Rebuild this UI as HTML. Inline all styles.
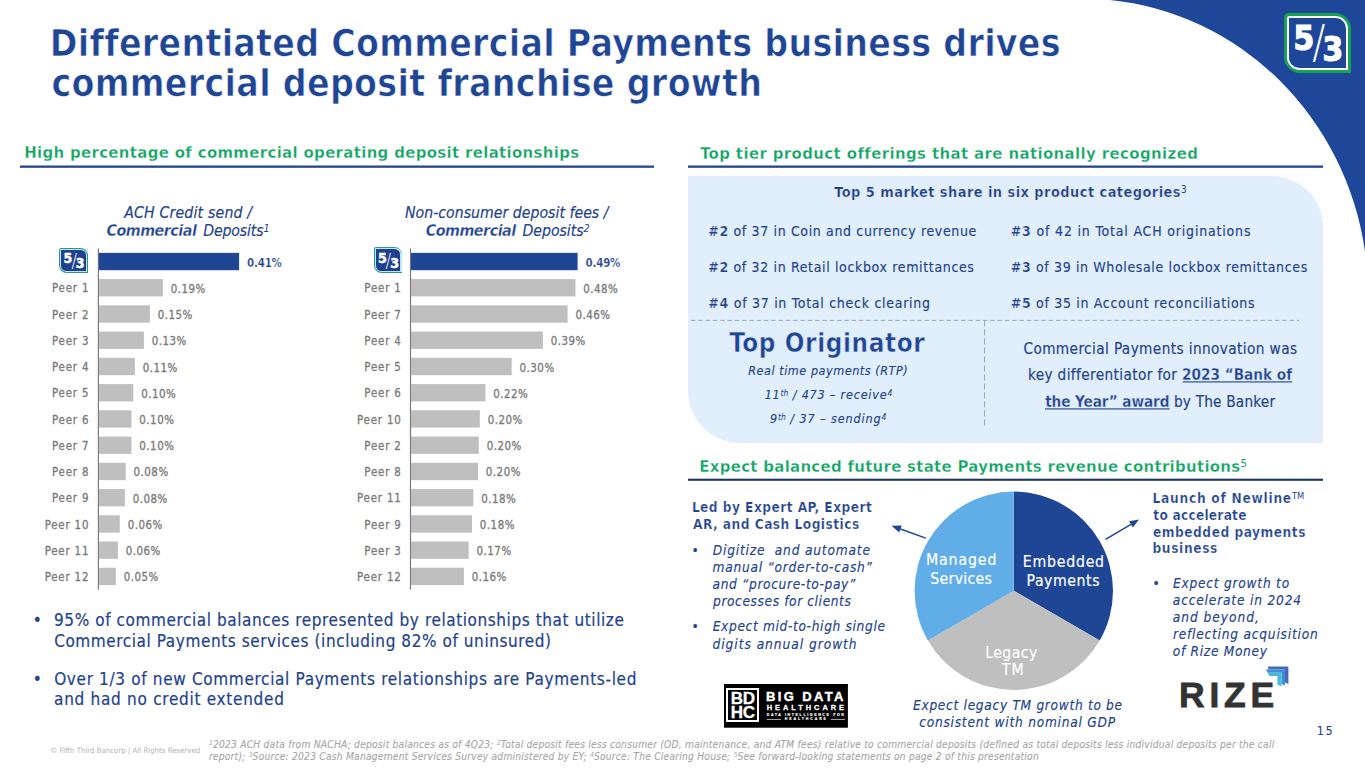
<!DOCTYPE html>
<html lang="en"><head><meta charset="utf-8"><title>Differentiated Commercial Payments business drives commercial deposit franchise growth</title>
<style>
html,body{margin:0;padding:0;background:#fff;}
body{width:1365px;height:768px;overflow:hidden;position:relative;font-family:"DejaVu Sans Condensed","Liberation Sans",sans-serif;font-stretch:condensed;font-variant-ligatures:none;font-kerning:normal;}
.t{position:absolute;white-space:pre;margin:0;}
.r{position:absolute;}
svg{position:absolute;overflow:visible;}
sup{font-size:68%;line-height:0;vertical-align:baseline;position:relative;top:-0.41em;letter-spacing:0;font-weight:normal;-webkit-text-stroke:0;}
.lg{color:#fff;font-weight:bold;-webkit-text-stroke:0.035em #fff;font-family:"DejaVu Sans Condensed","Liberation Sans",sans-serif;}
.lgs{color:#fff;font-weight:200;font-stretch:normal;font-family:"DejaVu Sans","Liberation Sans",sans-serif;}
.bd{color:#fff;font-weight:bold;font-stretch:normal;font-family:"Liberation Sans","DejaVu Sans",sans-serif;text-align:center;}
.rz{color:#333;font-weight:bold;font-stretch:normal;font-family:"Liberation Sans","DejaVu Sans",sans-serif;}
</style></head><body>
<svg width="1365" height="768" style="left:0;top:0" viewBox="0 0 1365 768"><path d="M1109.9,0 A285.1,296.57 0 0 1 1365,251.5 L1365,0 Z" fill="#1f4799"/></svg>
<div class="r" style="left:1284px;top:13px;width:67px;height:60px;background:#16a154;border-radius:4.8px 16px 0 16px;"></div>
<div class="r" style="left:1287.2px;top:16.2px;width:60.6px;height:53.6px;background:#ffffff;border-radius:2.4px 12.8px 0 12.8px;"></div>
<div class="r" style="left:1289.4px;top:18.4px;width:56.2px;height:49.2px;background:#1f4799;border-radius:0 10.6px 0 10.6px;"></div>
<div class="t lg" style="left:1293.60px;top:18.68px;font-size:33.00px;line-height:39.60px;">5</div>
<div class="t lgs" style="left:1310.60px;top:16.06px;font-size:45.60px;line-height:54.72px;transform:scaleX(0.85);">/</div>
<div class="t lg" style="left:1322.60px;top:29.88px;font-size:33.00px;line-height:39.60px;">3</div>
<div class="t" style="left:49.74px;top:21.0px;font-size:37.1px;line-height:45px;color:#1f4595;font-weight:bold;-webkit-text-stroke:0.63px #fff;letter-spacing:0.262px;">Differentiated Commercial Payments business drives</div>
<div class="t" style="left:51.41px;top:61.0px;font-size:37.1px;line-height:45px;color:#1f4595;font-weight:bold;-webkit-text-stroke:0.63px #fff;letter-spacing:0.305px;">commercial deposit franchise growth</div>
<div class="t" style="left:24.13px;top:142.0px;font-size:16.6px;line-height:21px;color:#10a464;font-weight:bold;-webkit-text-stroke:0.28px #fff;letter-spacing:0.342px;">High percentage of commercial operating deposit relationships</div>
<svg style="left:19px;top:164px" width="636" height="5"><rect x="1.00" y="1.50" width="634.00" height="2.30" fill="#254592" /></svg>
<div class="t" style="left:700.16px;top:143.0px;font-size:16.6px;line-height:21px;color:#10a464;font-weight:bold;-webkit-text-stroke:0.28px #fff;letter-spacing:0.395px;">Top tier product offerings that are nationally recognized</div>
<svg style="left:687px;top:164px" width="637" height="5"><rect x="1.00" y="1.50" width="635.00" height="2.30" fill="#254592" /></svg>
<div class="t" style="left:699.33px;top:456.0px;font-size:16.6px;line-height:21px;color:#10a464;font-weight:bold;-webkit-text-stroke:0.28px #fff;letter-spacing:0.302px;">Expect balanced future state Payments revenue contributions<sup>5</sup></div>
<svg style="left:687px;top:477px" width="637" height="5"><rect x="1.00" y="1.70" width="635.00" height="2.10" fill="#1d3568" /></svg>
<svg style="left:96px;top:247px" width="5" height="344"><rect x="1.80" y="1.50" width="1.20" height="341.20" fill="#7a7a7a" /></svg>
<svg style="left:97px;top:251px" width="144" height="21"><rect x="1.90" y="1.85" width="140.20" height="17.35" fill="#1f4595" /></svg>
<div class="t" style="left:247.12px;top:255.0px;font-size:11.4px;line-height:16px;color:#23438c;font-weight:bold;-webkit-text-stroke:0.19px #fff;letter-spacing:-0.194px;">0.41%</div>
<svg style="left:97px;top:278px" width="67" height="20"><rect x="1.90" y="1.09" width="64.00" height="17.35" fill="#bfbfbf" /></svg>
<div class="t" style="left:51.99px;top:280.0px;font-size:11.4px;line-height:16px;color:#7a7a7a;letter-spacing:0.822px;-webkit-text-stroke:0.3px #7a7a7a;">Peer 1</div>
<div class="t" style="left:170.74px;top:281.0px;font-size:11.4px;line-height:16px;color:#7a7a7a;letter-spacing:0.510px;-webkit-text-stroke:0.3px #7a7a7a;">0.19%</div>
<svg style="left:97px;top:304px" width="54" height="20"><rect x="1.90" y="1.33" width="51.00" height="17.35" fill="#bfbfbf" /></svg>
<div class="t" style="left:51.99px;top:307.0px;font-size:11.4px;line-height:16px;color:#7a7a7a;letter-spacing:0.822px;-webkit-text-stroke:0.3px #7a7a7a;">Peer 2</div>
<div class="t" style="left:157.74px;top:307.0px;font-size:11.4px;line-height:16px;color:#7a7a7a;letter-spacing:0.510px;-webkit-text-stroke:0.3px #7a7a7a;">0.15%</div>
<svg style="left:97px;top:330px" width="48" height="20"><rect x="1.90" y="1.57" width="45.00" height="17.35" fill="#bfbfbf" /></svg>
<div class="t" style="left:51.99px;top:333.0px;font-size:11.4px;line-height:16px;color:#7a7a7a;letter-spacing:0.822px;-webkit-text-stroke:0.3px #7a7a7a;">Peer 3</div>
<div class="t" style="left:151.74px;top:333.0px;font-size:11.4px;line-height:16px;color:#7a7a7a;letter-spacing:0.510px;-webkit-text-stroke:0.3px #7a7a7a;">0.13%</div>
<svg style="left:97px;top:356px" width="39" height="21"><rect x="1.90" y="1.81" width="36.00" height="17.35" fill="#bfbfbf" /></svg>
<div class="t" style="left:51.99px;top:359.0px;font-size:11.4px;line-height:16px;color:#7a7a7a;letter-spacing:0.822px;-webkit-text-stroke:0.3px #7a7a7a;">Peer 4</div>
<div class="t" style="left:142.74px;top:360.0px;font-size:11.4px;line-height:16px;color:#7a7a7a;letter-spacing:0.510px;-webkit-text-stroke:0.3px #7a7a7a;">0.11%</div>
<svg style="left:97px;top:383px" width="38" height="20"><rect x="1.90" y="1.05" width="34.40" height="17.35" fill="#bfbfbf" /></svg>
<div class="t" style="left:51.99px;top:385.0px;font-size:11.4px;line-height:16px;color:#7a7a7a;letter-spacing:0.822px;-webkit-text-stroke:0.3px #7a7a7a;">Peer 5</div>
<div class="t" style="left:141.14px;top:386.0px;font-size:11.4px;line-height:16px;color:#7a7a7a;letter-spacing:0.510px;-webkit-text-stroke:0.3px #7a7a7a;">0.10%</div>
<svg style="left:97px;top:409px" width="36" height="20"><rect x="1.90" y="1.29" width="32.60" height="17.35" fill="#bfbfbf" /></svg>
<div class="t" style="left:51.99px;top:412.0px;font-size:11.4px;line-height:16px;color:#7a7a7a;letter-spacing:0.822px;-webkit-text-stroke:0.3px #7a7a7a;">Peer 6</div>
<div class="t" style="left:139.34px;top:412.0px;font-size:11.4px;line-height:16px;color:#7a7a7a;letter-spacing:0.510px;-webkit-text-stroke:0.3px #7a7a7a;">0.10%</div>
<svg style="left:97px;top:435px" width="36" height="20"><rect x="1.90" y="1.53" width="32.60" height="17.35" fill="#bfbfbf" /></svg>
<div class="t" style="left:51.99px;top:438.0px;font-size:11.4px;line-height:16px;color:#7a7a7a;letter-spacing:0.822px;-webkit-text-stroke:0.3px #7a7a7a;">Peer 7</div>
<div class="t" style="left:139.34px;top:438.0px;font-size:11.4px;line-height:16px;color:#7a7a7a;letter-spacing:0.510px;-webkit-text-stroke:0.3px #7a7a7a;">0.10%</div>
<svg style="left:97px;top:461px" width="30" height="21"><rect x="1.90" y="1.77" width="26.80" height="17.35" fill="#bfbfbf" /></svg>
<div class="t" style="left:51.99px;top:464.0px;font-size:11.4px;line-height:16px;color:#7a7a7a;letter-spacing:0.822px;-webkit-text-stroke:0.3px #7a7a7a;">Peer 8</div>
<div class="t" style="left:133.54px;top:464.0px;font-size:11.4px;line-height:16px;color:#7a7a7a;letter-spacing:0.510px;-webkit-text-stroke:0.3px #7a7a7a;">0.08%</div>
<svg style="left:97px;top:488px" width="29" height="20"><rect x="1.90" y="1.01" width="26.00" height="17.35" fill="#bfbfbf" /></svg>
<div class="t" style="left:51.99px;top:490.0px;font-size:11.4px;line-height:16px;color:#7a7a7a;letter-spacing:0.822px;-webkit-text-stroke:0.3px #7a7a7a;">Peer 9</div>
<div class="t" style="left:132.74px;top:491.0px;font-size:11.4px;line-height:16px;color:#7a7a7a;letter-spacing:0.510px;-webkit-text-stroke:0.3px #7a7a7a;">0.08%</div>
<svg style="left:97px;top:514px" width="24" height="20"><rect x="1.90" y="1.25" width="20.90" height="17.35" fill="#bfbfbf" /></svg>
<div class="t" style="left:44.63px;top:517.0px;font-size:11.4px;line-height:16px;color:#7a7a7a;letter-spacing:0.824px;-webkit-text-stroke:0.3px #7a7a7a;">Peer 10</div>
<div class="t" style="left:127.64px;top:517.0px;font-size:11.4px;line-height:16px;color:#7a7a7a;letter-spacing:0.510px;-webkit-text-stroke:0.3px #7a7a7a;">0.06%</div>
<svg style="left:97px;top:540px" width="22" height="20"><rect x="1.90" y="1.49" width="19.00" height="17.35" fill="#bfbfbf" /></svg>
<div class="t" style="left:44.63px;top:543.0px;font-size:11.4px;line-height:16px;color:#7a7a7a;letter-spacing:0.824px;-webkit-text-stroke:0.3px #7a7a7a;">Peer 11</div>
<div class="t" style="left:125.74px;top:543.0px;font-size:11.4px;line-height:16px;color:#7a7a7a;letter-spacing:0.510px;-webkit-text-stroke:0.3px #7a7a7a;">0.06%</div>
<svg style="left:97px;top:566px" width="20" height="21"><rect x="1.90" y="1.73" width="17.00" height="17.35" fill="#bfbfbf" /></svg>
<div class="t" style="left:44.63px;top:569.0px;font-size:11.4px;line-height:16px;color:#7a7a7a;letter-spacing:0.824px;-webkit-text-stroke:0.3px #7a7a7a;">Peer 12</div>
<div class="t" style="left:123.74px;top:569.0px;font-size:11.4px;line-height:16px;color:#7a7a7a;letter-spacing:0.510px;-webkit-text-stroke:0.3px #7a7a7a;">0.05%</div>
<svg style="left:408px;top:247px" width="5" height="344"><rect x="1.90" y="1.50" width="1.20" height="341.20" fill="#7a7a7a" /></svg>
<svg style="left:410px;top:251px" width="169" height="21"><rect x="1.00" y="1.85" width="166.60" height="17.35" fill="#1f4595" /></svg>
<div class="t" style="left:585.62px;top:255.0px;font-size:11.4px;line-height:16px;color:#23438c;font-weight:bold;-webkit-text-stroke:0.19px #fff;letter-spacing:-0.194px;">0.49%</div>
<svg style="left:410px;top:278px" width="167" height="20"><rect x="1.00" y="1.09" width="164.40" height="17.35" fill="#bfbfbf" /></svg>
<div class="t" style="left:364.29px;top:280.0px;font-size:11.4px;line-height:16px;color:#7a7a7a;letter-spacing:0.822px;-webkit-text-stroke:0.3px #7a7a7a;">Peer 1</div>
<div class="t" style="left:583.24px;top:281.0px;font-size:11.4px;line-height:16px;color:#7a7a7a;letter-spacing:0.510px;-webkit-text-stroke:0.3px #7a7a7a;">0.48%</div>
<svg style="left:410px;top:304px" width="159" height="20"><rect x="1.00" y="1.33" width="156.60" height="17.35" fill="#bfbfbf" /></svg>
<div class="t" style="left:364.29px;top:307.0px;font-size:11.4px;line-height:16px;color:#7a7a7a;letter-spacing:0.822px;-webkit-text-stroke:0.3px #7a7a7a;">Peer 7</div>
<div class="t" style="left:575.44px;top:307.0px;font-size:11.4px;line-height:16px;color:#7a7a7a;letter-spacing:0.510px;-webkit-text-stroke:0.3px #7a7a7a;">0.46%</div>
<svg style="left:410px;top:330px" width="134" height="20"><rect x="1.00" y="1.57" width="131.90" height="17.35" fill="#bfbfbf" /></svg>
<div class="t" style="left:364.29px;top:333.0px;font-size:11.4px;line-height:16px;color:#7a7a7a;letter-spacing:0.822px;-webkit-text-stroke:0.3px #7a7a7a;">Peer 4</div>
<div class="t" style="left:550.74px;top:333.0px;font-size:11.4px;line-height:16px;color:#7a7a7a;letter-spacing:0.510px;-webkit-text-stroke:0.3px #7a7a7a;">0.39%</div>
<svg style="left:410px;top:356px" width="103" height="21"><rect x="1.00" y="1.81" width="100.70" height="17.35" fill="#bfbfbf" /></svg>
<div class="t" style="left:364.29px;top:359.0px;font-size:11.4px;line-height:16px;color:#7a7a7a;letter-spacing:0.822px;-webkit-text-stroke:0.3px #7a7a7a;">Peer 5</div>
<div class="t" style="left:519.54px;top:360.0px;font-size:11.4px;line-height:16px;color:#7a7a7a;letter-spacing:0.510px;-webkit-text-stroke:0.3px #7a7a7a;">0.30%</div>
<svg style="left:410px;top:383px" width="77" height="20"><rect x="1.00" y="1.05" width="74.40" height="17.35" fill="#bfbfbf" /></svg>
<div class="t" style="left:364.29px;top:385.0px;font-size:11.4px;line-height:16px;color:#7a7a7a;letter-spacing:0.822px;-webkit-text-stroke:0.3px #7a7a7a;">Peer 6</div>
<div class="t" style="left:493.24px;top:386.0px;font-size:11.4px;line-height:16px;color:#7a7a7a;letter-spacing:0.510px;-webkit-text-stroke:0.3px #7a7a7a;">0.22%</div>
<svg style="left:410px;top:409px" width="71" height="20"><rect x="1.00" y="1.29" width="68.80" height="17.35" fill="#bfbfbf" /></svg>
<div class="t" style="left:356.93px;top:412.0px;font-size:11.4px;line-height:16px;color:#7a7a7a;letter-spacing:0.824px;-webkit-text-stroke:0.3px #7a7a7a;">Peer 10</div>
<div class="t" style="left:487.64px;top:412.0px;font-size:11.4px;line-height:16px;color:#7a7a7a;letter-spacing:0.510px;-webkit-text-stroke:0.3px #7a7a7a;">0.20%</div>
<svg style="left:410px;top:435px" width="70" height="20"><rect x="1.00" y="1.53" width="67.80" height="17.35" fill="#bfbfbf" /></svg>
<div class="t" style="left:364.29px;top:438.0px;font-size:11.4px;line-height:16px;color:#7a7a7a;letter-spacing:0.822px;-webkit-text-stroke:0.3px #7a7a7a;">Peer 2</div>
<div class="t" style="left:486.64px;top:438.0px;font-size:11.4px;line-height:16px;color:#7a7a7a;letter-spacing:0.510px;-webkit-text-stroke:0.3px #7a7a7a;">0.20%</div>
<svg style="left:410px;top:461px" width="69" height="21"><rect x="1.00" y="1.77" width="67.00" height="17.35" fill="#bfbfbf" /></svg>
<div class="t" style="left:364.29px;top:464.0px;font-size:11.4px;line-height:16px;color:#7a7a7a;letter-spacing:0.822px;-webkit-text-stroke:0.3px #7a7a7a;">Peer 8</div>
<div class="t" style="left:485.84px;top:464.0px;font-size:11.4px;line-height:16px;color:#7a7a7a;letter-spacing:0.510px;-webkit-text-stroke:0.3px #7a7a7a;">0.20%</div>
<svg style="left:410px;top:488px" width="65" height="20"><rect x="1.00" y="1.01" width="62.30" height="17.35" fill="#bfbfbf" /></svg>
<div class="t" style="left:356.93px;top:490.0px;font-size:11.4px;line-height:16px;color:#7a7a7a;letter-spacing:0.824px;-webkit-text-stroke:0.3px #7a7a7a;">Peer 11</div>
<div class="t" style="left:481.14px;top:491.0px;font-size:11.4px;line-height:16px;color:#7a7a7a;letter-spacing:0.510px;-webkit-text-stroke:0.3px #7a7a7a;">0.18%</div>
<svg style="left:410px;top:514px" width="63" height="20"><rect x="1.00" y="1.25" width="61.00" height="17.35" fill="#bfbfbf" /></svg>
<div class="t" style="left:364.29px;top:517.0px;font-size:11.4px;line-height:16px;color:#7a7a7a;letter-spacing:0.822px;-webkit-text-stroke:0.3px #7a7a7a;">Peer 9</div>
<div class="t" style="left:479.84px;top:517.0px;font-size:11.4px;line-height:16px;color:#7a7a7a;letter-spacing:0.510px;-webkit-text-stroke:0.3px #7a7a7a;">0.18%</div>
<svg style="left:410px;top:540px" width="60" height="20"><rect x="1.00" y="1.49" width="57.70" height="17.35" fill="#bfbfbf" /></svg>
<div class="t" style="left:364.29px;top:543.0px;font-size:11.4px;line-height:16px;color:#7a7a7a;letter-spacing:0.822px;-webkit-text-stroke:0.3px #7a7a7a;">Peer 3</div>
<div class="t" style="left:476.54px;top:543.0px;font-size:11.4px;line-height:16px;color:#7a7a7a;letter-spacing:0.510px;-webkit-text-stroke:0.3px #7a7a7a;">0.17%</div>
<svg style="left:410px;top:566px" width="55" height="21"><rect x="1.00" y="1.73" width="52.90" height="17.35" fill="#bfbfbf" /></svg>
<div class="t" style="left:356.93px;top:569.0px;font-size:11.4px;line-height:16px;color:#7a7a7a;letter-spacing:0.824px;-webkit-text-stroke:0.3px #7a7a7a;">Peer 12</div>
<div class="t" style="left:471.74px;top:569.0px;font-size:11.4px;line-height:16px;color:#7a7a7a;letter-spacing:0.510px;-webkit-text-stroke:0.3px #7a7a7a;">0.16%</div>
<div class="r" style="left:59.3px;top:247.6px;width:28.5px;height:25.2px;background:#2f978a;border-radius:2.2px 7.5px 0 7.5px;"></div>
<div class="r" style="left:60.199999999999996px;top:248.5px;width:26.7px;height:23.4px;background:#b5ecea;border-radius:1.1px 6.6px 0 6.6px;"></div>
<div class="r" style="left:61.3px;top:249.6px;width:24.5px;height:21.2px;background:#1f3f8f;border-radius:0 5.5px 0 5.5px;"></div>
<div class="t lg" style="left:63.38px;top:250.02px;font-size:14.04px;line-height:16.84px;">5</div>
<div class="t lgs" style="left:70.61px;top:248.90px;font-size:19.40px;line-height:23.28px;transform:scaleX(0.85);">/</div>
<div class="t lg" style="left:75.72px;top:254.78px;font-size:14.04px;line-height:16.84px;">3</div>
<div class="r" style="left:373.8px;top:247.3px;width:28.7px;height:25.5px;background:#2f978a;border-radius:2.2px 7.5px 0 7.5px;"></div>
<div class="r" style="left:374.7px;top:248.20000000000002px;width:26.9px;height:23.7px;background:#b5ecea;border-radius:1.1px 6.6px 0 6.6px;"></div>
<div class="r" style="left:375.8px;top:249.3px;width:24.7px;height:21.5px;background:#1f3f8f;border-radius:0 5.5px 0 5.5px;"></div>
<div class="t lg" style="left:377.91px;top:249.73px;font-size:14.14px;line-height:16.96px;">5</div>
<div class="t lgs" style="left:385.19px;top:248.61px;font-size:19.53px;line-height:23.44px;transform:scaleX(0.85);">/</div>
<div class="t lg" style="left:390.33px;top:254.53px;font-size:14.14px;line-height:16.96px;">3</div>
<div class="t" style="left:124.15px;top:202.0px;font-size:15.7px;line-height:21px;color:#23438c;font-style:italic;-webkit-text-stroke:0.17px #23438c;letter-spacing:0.183px;">ACH Credit send /</div>
<div class="t" style="left:106.38px;top:220.0px;font-size:15.9px;line-height:21px;color:#23438c;font-weight:bold;-webkit-text-stroke:0.27px #fff;font-style:italic;letter-spacing:-0.482px;">Commercial</div>
<div class="t" style="left:203.25px;top:220.0px;font-size:15.7px;line-height:21px;color:#23438c;font-style:italic;-webkit-text-stroke:0.17px #23438c;letter-spacing:-0.149px;">Deposits<sup>1</sup></div>
<div class="t" style="left:404.95px;top:202.0px;font-size:15.7px;line-height:21px;color:#23438c;font-style:italic;-webkit-text-stroke:0.17px #23438c;letter-spacing:0.020px;">Non-consumer deposit fees /</div>
<div class="t" style="left:425.68px;top:220.0px;font-size:15.9px;line-height:21px;color:#23438c;font-weight:bold;-webkit-text-stroke:0.27px #fff;font-style:italic;letter-spacing:-0.482px;">Commercial</div>
<div class="t" style="left:522.55px;top:220.0px;font-size:15.7px;line-height:21px;color:#23438c;font-style:italic;-webkit-text-stroke:0.17px #23438c;letter-spacing:-0.043px;">Deposits<sup>2</sup></div>
<div class="t" style="left:32.65px;top:609.0px;font-size:17px;line-height:22px;color:#23438c;-webkit-text-stroke:0.19px #23438c;letter-spacing:-0.008px;">•</div>
<div class="t" style="left:54.06px;top:609.0px;font-size:17px;line-height:22px;color:#23438c;-webkit-text-stroke:0.19px #23438c;letter-spacing:0.579px;">95% of commercial balances represented by relationships that utilize</div>
<div class="t" style="left:54.15px;top:630.0px;font-size:17px;line-height:22px;color:#23438c;-webkit-text-stroke:0.19px #23438c;letter-spacing:0.578px;">Commercial Payments services (including 82% of uninsured)</div>
<div class="t" style="left:32.65px;top:668.0px;font-size:17px;line-height:22px;color:#23438c;-webkit-text-stroke:0.19px #23438c;letter-spacing:-0.008px;">•</div>
<div class="t" style="left:54.15px;top:668.0px;font-size:17px;line-height:22px;color:#23438c;-webkit-text-stroke:0.19px #23438c;letter-spacing:0.663px;">Over 1/3 of new Commercial Payments relationships are Payments-led</div>
<div class="t" style="left:54.11px;top:688.0px;font-size:17px;line-height:22px;color:#23438c;-webkit-text-stroke:0.19px #23438c;letter-spacing:0.717px;">and had no credit extended</div>
<div class="r" style="left:688px;top:176px;width:635px;height:267.3px;background:#e1eefb;border-radius:0 51px 0 52px;"></div>
<div class="t" style="left:834.36px;top:183.0px;font-size:14.4px;line-height:18px;color:#1f3f85;font-weight:bold;-webkit-text-stroke:0.24px #e1eefb;letter-spacing:0.466px;">Top 5 market share in six product categories<sup>3</sup></div>
<div class="t" style="left:708.26px;top:222.0px;font-size:14px;line-height:18px;color:#23438c;-webkit-text-stroke:0.15px #23438c;letter-spacing:0.640px;"><span style="font-weight:bold;-webkit-text-stroke:0.24px #e1eefb;">#2</span> of 37 in Coin and currency revenue</div>
<div class="t" style="left:708.26px;top:258.0px;font-size:14px;line-height:18px;color:#23438c;-webkit-text-stroke:0.15px #23438c;letter-spacing:0.644px;"><span style="font-weight:bold;-webkit-text-stroke:0.24px #e1eefb;">#2</span> of 32 in Retail lockbox remittances</div>
<div class="t" style="left:708.26px;top:294.0px;font-size:14px;line-height:18px;color:#23438c;-webkit-text-stroke:0.15px #23438c;letter-spacing:0.714px;"><span style="font-weight:bold;-webkit-text-stroke:0.24px #e1eefb;">#4</span> of 37 in Total check clearing</div>
<div class="t" style="left:1010.76px;top:222.0px;font-size:14px;line-height:18px;color:#23438c;-webkit-text-stroke:0.15px #23438c;letter-spacing:0.809px;"><span style="font-weight:bold;-webkit-text-stroke:0.24px #e1eefb;">#3</span> of 42 in Total ACH originations</div>
<div class="t" style="left:1010.76px;top:258.0px;font-size:14px;line-height:18px;color:#23438c;-webkit-text-stroke:0.15px #23438c;letter-spacing:0.630px;"><span style="font-weight:bold;-webkit-text-stroke:0.24px #e1eefb;">#3</span> of 39 in Wholesale lockbox remittances</div>
<div class="t" style="left:1010.76px;top:294.0px;font-size:14px;line-height:18px;color:#23438c;-webkit-text-stroke:0.15px #23438c;letter-spacing:0.675px;"><span style="font-weight:bold;-webkit-text-stroke:0.24px #e1eefb;">#5</span> of 35 in Account reconciliations</div>
<svg width="1365" height="768" style="left:0;top:0" viewBox="0 0 1365 768"><path d="M691,320.4 H1299" stroke="#959aa2" stroke-width="0.85" stroke-dasharray="4.4 2.9" fill="none"/><path d="M984.5,320.4 V427" stroke="#959aa2" stroke-width="0.85" stroke-dasharray="6 3" fill="none"/></svg>
<div class="t" style="left:729.24px;top:327.0px;font-size:25.8px;line-height:32px;color:#1f4595;font-weight:bold;-webkit-text-stroke:0.44px #e1eefb;letter-spacing:0.617px;">Top Originator</div>
<div class="t" style="left:748.22px;top:362.0px;font-size:12.5px;line-height:17px;color:#23438c;font-style:italic;-webkit-text-stroke:0.14px #23438c;letter-spacing:0.541px;">Real time payments (RTP)</div>
<div class="t" style="left:764.67px;top:386.0px;font-size:12.5px;line-height:17px;color:#23438c;font-style:italic;-webkit-text-stroke:0.14px #23438c;letter-spacing:0.783px;">11<sup>th</sup> / 473 – receive<sup>4</sup></div>
<div class="t" style="left:769.93px;top:410.0px;font-size:12.5px;line-height:17px;color:#23438c;font-style:italic;-webkit-text-stroke:0.14px #23438c;letter-spacing:0.883px;">9<sup>th</sup> / 37 – sending<sup>4</sup></div>
<div class="t" style="left:1023.44px;top:339.0px;font-size:15.2px;line-height:20px;color:#23438c;-webkit-text-stroke:0.17px #23438c;letter-spacing:0.403px;">Commercial Payments innovation was</div>
<svg style="left:1181px;top:380px" width="113" height="4"><rect x="1.74" y="1.20" width="109.42" height="1.40" fill="#23438c" opacity="0.8"/></svg>
<div class="t" style="left:1027.88px;top:365.0px;font-size:15.2px;line-height:20px;color:#23438c;-webkit-text-stroke:0.17px #23438c;letter-spacing:0.384px;">key differentiator for <span style="letter-spacing:-0.016px;font-weight:bold;-webkit-text-stroke:0.26px #e1eefb;">2023 “Bank of</span></div>
<svg style="left:1044px;top:407px" width="127" height="4"><rect x="1.00" y="1.20" width="124.60" height="1.40" fill="#23438c" opacity="0.8"/></svg>
<div class="t" style="left:1045.15px;top:392.0px;font-size:15.2px;line-height:20px;color:#23438c;-webkit-text-stroke:0.17px #23438c;letter-spacing:0.209px;"><span style="letter-spacing:-0.091px;font-weight:bold;-webkit-text-stroke:0.26px #e1eefb;">the Year” award</span> by The Banker</div>
<div class="t" style="left:691.88px;top:498.0px;font-size:13.6px;line-height:18px;color:#23438c;font-weight:bold;-webkit-text-stroke:0.23px #fff;letter-spacing:0.451px;">Led by Expert AP, Expert</div>
<div class="t" style="left:692.97px;top:515.0px;font-size:13.6px;line-height:18px;color:#23438c;font-weight:bold;-webkit-text-stroke:0.23px #fff;letter-spacing:0.466px;">AR, and Cash Logistics</div>
<div class="t" style="left:691.60px;top:541.0px;font-size:13.6px;line-height:18px;color:#23438c;-webkit-text-stroke:0.15px #23438c;">•</div>
<div class="t" style="left:712.69px;top:541.0px;font-size:13.6px;line-height:18px;color:#23438c;font-style:italic;-webkit-text-stroke:0.15px #23438c;letter-spacing:0.819px;">Digitize  and automate</div>
<div class="t" style="left:712.59px;top:558.0px;font-size:13.6px;line-height:18px;color:#23438c;font-style:italic;-webkit-text-stroke:0.15px #23438c;letter-spacing:0.734px;">manual “order-to-cash”</div>
<div class="t" style="left:712.52px;top:575.0px;font-size:13.6px;line-height:18px;color:#23438c;font-style:italic;-webkit-text-stroke:0.15px #23438c;letter-spacing:0.648px;">and “procure-to-pay”</div>
<div class="t" style="left:713.03px;top:592.0px;font-size:13.6px;line-height:18px;color:#23438c;font-style:italic;-webkit-text-stroke:0.15px #23438c;letter-spacing:0.609px;">processes for clients</div>
<div class="t" style="left:691.60px;top:617.0px;font-size:13.6px;line-height:18px;color:#23438c;-webkit-text-stroke:0.15px #23438c;">•</div>
<div class="t" style="left:712.69px;top:617.0px;font-size:13.6px;line-height:18px;color:#23438c;font-style:italic;-webkit-text-stroke:0.15px #23438c;letter-spacing:0.654px;">Expect mid-to-high single</div>
<div class="t" style="left:712.46px;top:635.0px;font-size:13.6px;line-height:18px;color:#23438c;font-style:italic;-webkit-text-stroke:0.15px #23438c;letter-spacing:0.971px;">digits annual growth</div>
<div class="t" style="left:1152.58px;top:489.0px;font-size:13.6px;line-height:18px;color:#23438c;font-weight:bold;-webkit-text-stroke:0.23px #fff;letter-spacing:0.731px;">Launch of Newline<sup>TM</sup></div>
<div class="t" style="left:1153.36px;top:506.0px;font-size:13.6px;line-height:18px;color:#23438c;font-weight:bold;-webkit-text-stroke:0.23px #fff;letter-spacing:0.220px;">to accelerate</div>
<div class="t" style="left:1152.99px;top:523.0px;font-size:13.6px;line-height:18px;color:#23438c;font-weight:bold;-webkit-text-stroke:0.23px #fff;letter-spacing:0.508px;">embedded payments</div>
<div class="t" style="left:1152.48px;top:539.0px;font-size:13.6px;line-height:18px;color:#23438c;font-weight:bold;-webkit-text-stroke:0.23px #fff;letter-spacing:0.623px;">business</div>
<div class="t" style="left:1152.40px;top:574.0px;font-size:13.6px;line-height:18px;color:#23438c;-webkit-text-stroke:0.15px #23438c;">•</div>
<div class="t" style="left:1172.99px;top:574.0px;font-size:13.6px;line-height:18px;color:#23438c;font-style:italic;-webkit-text-stroke:0.15px #23438c;letter-spacing:0.767px;">Expect growth to</div>
<div class="t" style="left:1172.82px;top:591.0px;font-size:13.6px;line-height:18px;color:#23438c;font-style:italic;-webkit-text-stroke:0.15px #23438c;letter-spacing:0.821px;">accelerate in 2024</div>
<div class="t" style="left:1172.82px;top:608.0px;font-size:13.6px;line-height:18px;color:#23438c;font-style:italic;-webkit-text-stroke:0.15px #23438c;letter-spacing:0.967px;">and beyond,</div>
<div class="t" style="left:1172.89px;top:625.0px;font-size:13.6px;line-height:18px;color:#23438c;font-style:italic;-webkit-text-stroke:0.15px #23438c;letter-spacing:0.779px;">reflecting acquisition</div>
<div class="t" style="left:1172.76px;top:642.0px;font-size:13.6px;line-height:18px;color:#23438c;font-style:italic;-webkit-text-stroke:0.15px #23438c;letter-spacing:0.693px;">of Rize Money</div>
<div class="t" style="left:913.09px;top:696.0px;font-size:13.6px;line-height:18px;color:#23438c;font-style:italic;-webkit-text-stroke:0.15px #23438c;letter-spacing:0.689px;">Expect legacy TM growth to be</div>
<div class="t" style="left:919.16px;top:713.0px;font-size:13.6px;line-height:18px;color:#23438c;font-style:italic;-webkit-text-stroke:0.15px #23438c;letter-spacing:0.769px;">consistent with nominal GDP</div>
<svg width="1365" height="768" style="left:0;top:0" viewBox="0 0 1365 768"><path d="M1013.8,590.8 L1013.80,491.60 A99.2,99.2 0 0 1 1099.71,640.40 Z" fill="#1f4595"/><path d="M1013.8,590.8 L1099.71,640.40 A99.2,99.2 0 0 1 927.89,640.40 Z" fill="#bfbfbf"/><path d="M1013.8,590.8 L927.89,640.40 A99.2,99.2 0 0 1 1013.80,491.60 Z" fill="#61ade7"/><line x1="925.8" y1="538.1" x2="900.4" y2="529.0" stroke="#1f4595" stroke-width="1.5"/><path d="M891.5,525.8 L901.7,525.6 L899.2,532.4 Z" fill="#1f4595"/><line x1="1105.6" y1="539.3" x2="1130.9" y2="524.3" stroke="#1f4595" stroke-width="1.5"/><path d="M1139.1,519.5 L1132.8,527.4 L1129.1,521.2 Z" fill="#1f4595"/></svg>
<div class="t" style="left:925.93px;top:549.0px;font-size:15.7px;line-height:21px;color:#fff;-webkit-text-stroke:0.17px #fff;letter-spacing:0.898px;">Managed</div>
<div class="t" style="left:930.30px;top:568.0px;font-size:15.7px;line-height:21px;color:#fff;-webkit-text-stroke:0.17px #fff;letter-spacing:0.295px;">Services</div>
<div class="t" style="left:1022.73px;top:551.0px;font-size:15.7px;line-height:21px;color:#fff;-webkit-text-stroke:0.17px #fff;letter-spacing:0.781px;">Embedded</div>
<div class="t" style="left:1026.53px;top:570.0px;font-size:15.7px;line-height:21px;color:#fff;-webkit-text-stroke:0.17px #fff;letter-spacing:0.565px;">Payments</div>
<div class="t" style="left:985.13px;top:642.0px;font-size:15.7px;line-height:21px;color:#fff;-webkit-text-stroke:0.17px #fff;letter-spacing:0.429px;">Legacy</div>
<div class="t" style="left:1001.74px;top:659.0px;font-size:15.7px;line-height:21px;color:#fff;-webkit-text-stroke:0.17px #fff;letter-spacing:1.099px;">TM</div>
<svg style="left:723px;top:683px" width="126" height="46"><rect x="1.00" y="1.00" width="123.90" height="43.70" fill="#000" /></svg>
<div class="r" style="left:725.5px;top:688.3px;width:29.6px;height:29.8px;border:2.5px solid #fff;"></div>
<div class="t bd" style="left:725.5px;top:692.4px;width:34.6px;font-size:17px;line-height:13.8px;letter-spacing:-0.3px;-webkit-text-stroke:0.35px #fff;">BD
HC</div>
<div class="t bd" style="left:766.1px;top:690.3px;font-size:13px;line-height:13px;letter-spacing:2.35px;-webkit-text-stroke:0.4px #fff;">BIG DATA</div>
<div class="t bd" style="left:766.7px;top:703.9px;font-size:7.4px;line-height:8px;letter-spacing:3.0px;-webkit-text-stroke:0.3px #fff;">HEALTHCARE</div>
<div class="t bd" style="left:766.7px;top:712.9px;font-size:3.6px;line-height:4px;letter-spacing:1.6px;-webkit-text-stroke:0.15px #fff;">DATA INTELLIGENCE FOR</div>
<div class="t bd" style="left:784.7px;top:717.4px;font-size:3.6px;line-height:4px;letter-spacing:1.87px;-webkit-text-stroke:0.15px #fff;">HEALTHCARE</div>
<svg style="left:765px;top:718px" width="17" height="3"><rect x="1.80" y="1.30" width="14.20" height="0.70" fill="#e8e8e8" /></svg>
<svg style="left:829px;top:718px" width="18" height="3"><rect x="1.80" y="1.30" width="14.40" height="0.70" fill="#e8e8e8" /></svg>
<div class="t rz" style="left:1179px;top:672.0px;font-size:35.5px;line-height:46px;letter-spacing:4.75px;-webkit-text-stroke:0.8px #333;">RIZE</div>
<svg width="1365" height="768" style="left:0;top:0" viewBox="0 0 1365 768"><path d="M1268.2,666.4 H1287.2 Q1288.4,666.4 1288.4,667.6 V684 L1285,682.6 V669.6 H1268.2 Z" fill="#4b66bd"/><path d="M1265.6,669.6 H1285 V685.4 L1281.6,684 V672.8 H1267.8 Z" fill="#3f8fd2"/><path d="M1267.4,672.8 H1281.6 V686.3 L1277.4,684.8 V676 H1269.6 Z" fill="#49b9da"/></svg>
<div class="t" style="left:50.37px;top:745.0px;font-size:7.6px;line-height:11px;color:#bbbbbb;-webkit-text-stroke:0.08px #bbbbbb;letter-spacing:0.080px;">© Fifth Third Bancorp | All Rights Reserved</div>
<div class="t" style="left:1317.05px;top:723.0px;font-size:11.8px;line-height:16px;color:#23438c;-webkit-text-stroke:0.13px #23438c;letter-spacing:1.854px;">15</div>
<div class="t" style="left:208.91px;top:738.0px;font-size:10.2px;line-height:13px;color:#a6a6a6;font-style:italic;-webkit-text-stroke:0.11px #a6a6a6;letter-spacing:0.218px;"><sup>1</sup>2023 ACH data from NACHA; deposit balances as of 4Q23; <sup>2</sup>Total deposit fees less consumer (OD, maintenance, and ATM fees) relative to commercial deposits (defined as total deposits less individual deposits per the call</div>
<div class="t" style="left:208.89px;top:750.0px;font-size:10.2px;line-height:13px;color:#a6a6a6;font-style:italic;-webkit-text-stroke:0.11px #a6a6a6;letter-spacing:0.219px;">report); <sup>3</sup>Source: 2023 Cash Management Services Survey administered by EY; <sup>4</sup>Source: The Clearing House; <sup>5</sup>See forward-looking statements on page 2 of this presentation</div>
</body></html>
